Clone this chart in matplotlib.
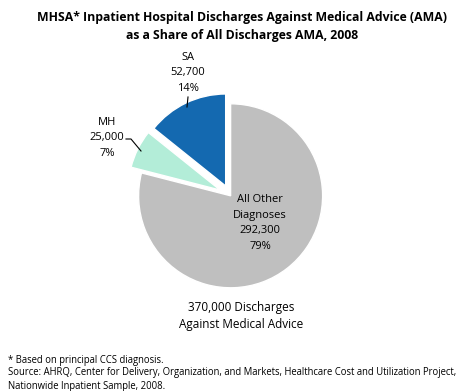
import matplotlib
matplotlib.use("Agg")
import matplotlib.pyplot as plt

# data
categories = ["All Other\nDiagnoses", "MH", "SA"]
values = [292300, 25000, 52700]
shares = ["79%", "7%", "14%"]
colors = ["#BFBFBF", "#B3EDD8", "#1469B0"]
total = "370,000"

plt.rcParams['font.family'] = ['Open Sans', 'DejaVu Sans']

W, H = 477, 391
fig = plt.figure(figsize=(W / 100, H / 100), dpi=100)
ax = fig.add_axes([0, 0, 1, 1])

def Y(py):
    return H - py

# explode is in data units (pixels here)
ax.pie(values, colors=colors, startangle=90, counterclock=False,
       explode=[1.0, 11.0, 10.0], center=(230, Y(195)), radius=92,
       wedgeprops=dict(linewidth=1, edgecolor="white"))
ax.set_xlim(0, W)
ax.set_ylim(0, H)
ax.set_aspect("equal")
ax.axis("off")

# title
ax.text(242, Y(18), "MHSA* Inpatient Hospital Discharges Against Medical Advice (AMA)",
        ha="center", va="center", fontsize=8.8, fontweight="bold")
ax.text(242, Y(36), "as a Share of All Discharges AMA, 2008",
        ha="center", va="center", fontsize=8.8, fontweight="bold")

def fmt(v):
    return f"{v:,}"

# slice labels
ax.text(188, Y(73), f"{categories[2]}\n{fmt(values[2])}\n{shares[2]}",
        ha="center", va="center", fontsize=8, linespacing=1.6)
ax.plot([188, 187], [Y(97), Y(107)], color="black", lw=0.8)

ax.text(107, Y(138), f"{categories[1]}\n{fmt(values[1])}\n{shares[1]}",
        ha="center", va="center", fontsize=8, linespacing=1.6)
ax.plot([126, 131, 141], [Y(139), Y(139), Y(151)], color="black", lw=0.8)

ax.text(260, Y(223), f"{categories[0]}\n{fmt(values[0])}\n{shares[0]}",
        ha="center", va="center", fontsize=8, linespacing=1.6)

ax.text(241, Y(316), f"{total} Discharges\nAgainst Medical Advice",
        ha="center", va="center", fontsize=8.5, linespacing=1.35)

ax.text(8, Y(360), "* Based on principal CCS diagnosis.", ha="left", va="center", fontsize=6.85)
ax.text(8, Y(373), "Source: AHRQ, Center for Delivery, Organization, and Markets, Healthcare Cost and Utilization Project,",
        ha="left", va="center", fontsize=6.85)
ax.text(8, Y(386), "Nationwide Inpatient Sample, 2008.", ha="left", va="center", fontsize=6.85)

fig.savefig("out.png", dpi=100)
